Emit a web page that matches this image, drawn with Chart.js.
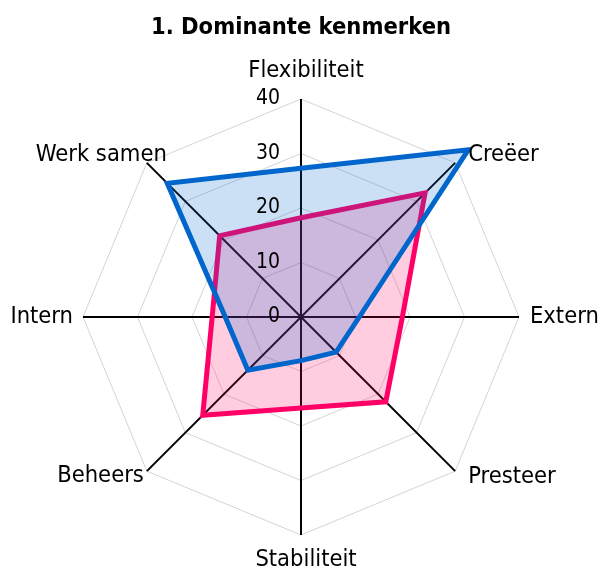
<!DOCTYPE html>
<html lang="nl">
<head>
  <meta charset="UTF-8" />
  <title>Dominante kenmerken</title>
  <style>
    html, body { margin: 0; padding: 0; background: #fff; }
    .chart-box { width: 600px; height: 572px; }
  </style>
</head>
<body>
  <div class="chart-box">
    <canvas id="radarChart"></canvas>
  </div>

  <script src="https://cdn.jsdelivr.net/npm/chart.js"></script>
  <script>
    // assen (met de klok mee, vanaf boven)
    const assen = ['Flexibiliteit', 'Creëer', 'Extern', 'Presteer', 'Stabiliteit', 'Beheers', 'Intern', 'Werk samen'];
    const huidig = [27.3, 43.4, 10.7, 9.1, 8.0, 13.8, 13.9, 34.7];
    const gewenst = [18.2, 32.2, 18.6, 22.0, 16.7, 25.5, 16.3, 21.1];
    const schaalTicks = [0, 10, 20, 30, 40];

    const lettertype = "'DejaVu Sans Condensed', 'DejaVu Sans', sans-serif";

    // tick-labels links van de verticale as, aslabels zoals in Excel
    const labelPlugin = {
      id: 'excelLabels',
      afterDraw(chart) {
        const r = chart.scales.r;
        const ctx = chart.ctx;
        ctx.save();
        ctx.fillStyle = '#000';
        ctx.textBaseline = 'middle';

        ctx.font = '21px ' + lettertype;
        ctx.textAlign = 'right';
        schaalTicks.forEach(t => {
          const y = r.yCenter - r.getDistanceFromCenterForValue(t);
          ctx.fillText(String(t), r.xCenter - 21, y);
        });

        ctx.font = '23.5px ' + lettertype;
        assen.forEach((naam, i) => {
          const p = r.getPointPosition(i, r.drawingArea);
          const dx = Math.round(p.x - r.xCenter);
          const dy = Math.round(p.y - r.yCenter);
          let x = p.x, y = p.y;
          if (dx === 0) {
            ctx.textAlign = 'center';
            x += 5;
            y += dy < 0 ? -28 : 25;
          } else if (dy === 0) {
            ctx.textAlign = dx > 0 ? 'left' : 'right';
            x += dx > 0 ? 11 : -10;
          } else if (dx > 0) {
            ctx.textAlign = 'left';
            x += 13;
            y += dy < 0 ? -8 : 6;
          } else {
            ctx.textAlign = 'right';
            x += dy < 0 ? 20 : -3;
            y += dy < 0 ? -8 : 5;
          }
          ctx.fillText(naam, x, y);
        });
        ctx.restore();
      }
    };

    new Chart(document.getElementById('radarChart'), {
      type: 'radar',
      data: {
        labels: assen,
        datasets: [
          {
            label: 'Huidige situatie',
            data: huidig,
            borderColor: '#0066CC',
            backgroundColor: 'rgba(0, 102, 204, 0.2)',
            borderWidth: 5,
            fill: true,
            pointRadius: 0,
            tension: 0
          },
          {
            label: 'Gewenste situatie',
            data: gewenst,
            borderColor: '#FF0066',
            backgroundColor: 'rgba(255, 0, 102, 0.2)',
            borderWidth: 5,
            fill: true,
            pointRadius: 0,
            tension: 0
          }
        ]
      },
      options: {
        responsive: true,
        maintainAspectRatio: false,
        animation: false,
        layout: { padding: { left: 83, right: 81, top: 0, bottom: 36 } },
        plugins: {
          legend: { display: false },
          tooltip: { enabled: false },
          title: {
            display: true,
            text: '1. Dominante kenmerken',
            color: '#000',
            font: { family: lettertype, size: 23.5, weight: 'bold' },
            padding: { top: 14, bottom: 57 }
          }
        },
        scales: {
          r: {
            min: 0,
            max: 40,
            beginAtZero: true,
            ticks: { stepSize: 10, display: false },
            grid: { color: '#d4d4d4', lineWidth: 1, circular: false },
            angleLines: { color: '#000', lineWidth: 2 },
            pointLabels: { display: false }
          }
        }
      },
      plugins: [labelPlugin]
    });
  </script>
</body>
</html>
